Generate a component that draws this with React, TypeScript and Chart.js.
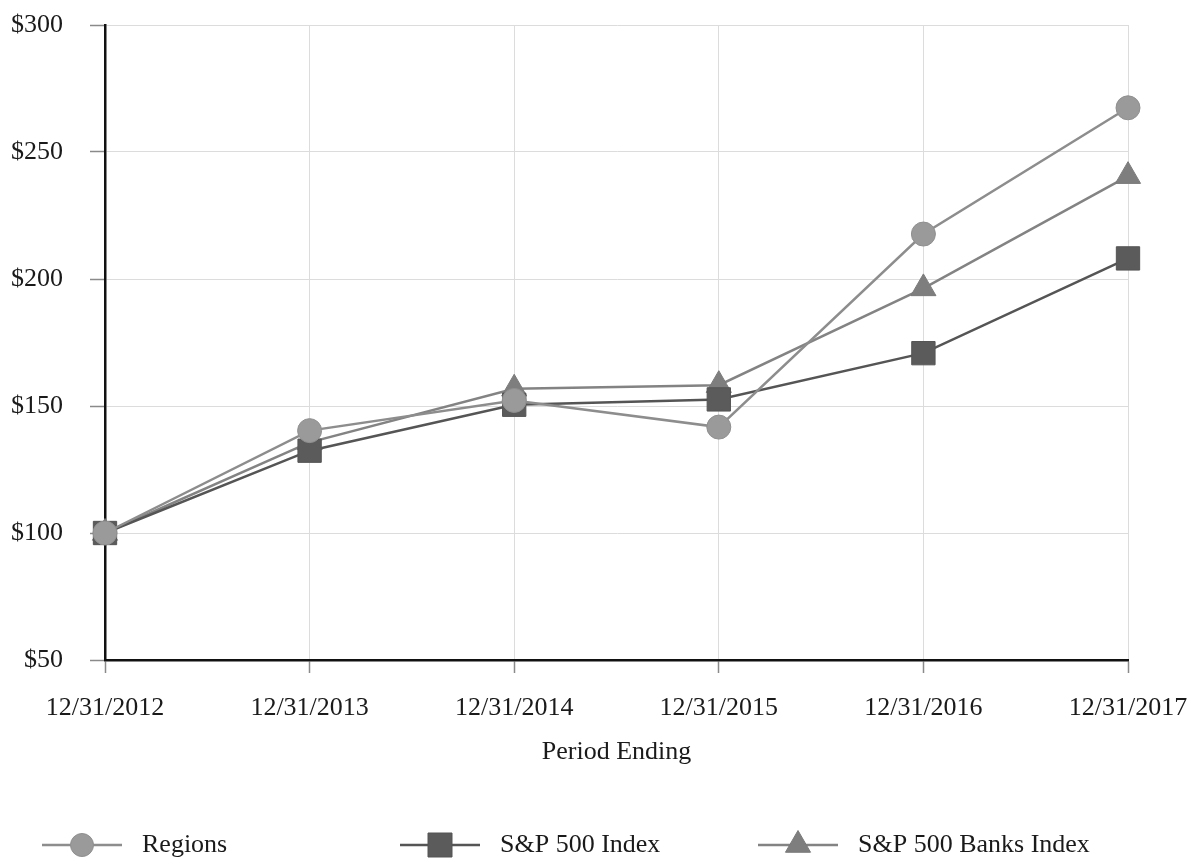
import { useEffect, useRef } from 'react';
import { Chart, registerables } from 'chart.js';

Chart.register(...registerables);

const categories = ['12/31/2012', '12/31/2013', '12/31/2014', '12/31/2015', '12/31/2016', '12/31/2017'];
const regionsValues = [100, 140.3, 152.2, 141.7, 217.7, 267.4];
const sp500Values = [100, 132.4, 150.5, 152.6, 170.8, 208.1];
const spBanksValues = [100, 135.7, 156.8, 158.2, 196.3, 240.5];
const seriesNames = ['Regions', 'S&P 500 Index', 'S&P 500 Banks Index'];
const yMin = 50;
const yMax = 300;
const yStep = 50;
const xTitle = 'Period Ending';

const FONT = '"Liberation Serif", "Times New Roman", serif';
const TEXT = '#1a1a1a';

const legendPlugin = {
  id: 'lineMarkerLegend',
  afterDraw(chart: any) {
    const ctx = chart.ctx as CanvasRenderingContext2D;
    const y = chart.height - 16;
    const starts = [42, 400, 758];
    chart.data.datasets.forEach((ds: any, i: number) => {
      const x0 = starts[i];
      ctx.save();
      ctx.strokeStyle = ds.borderColor;
      ctx.lineWidth = ds.borderWidth;
      ctx.beginPath();
      ctx.moveTo(x0, y);
      ctx.lineTo(x0 + 80, y);
      ctx.stroke();
      const cx = x0 + 40;
      ctx.fillStyle = ds.pointBackgroundColor;
      ctx.strokeStyle = ds.pointBorderColor;
      ctx.lineWidth = 1;
      ctx.beginPath();
      if (ds.pointStyle === 'circle') {
        ctx.arc(cx, y, 11.5, 0, Math.PI * 2);
      } else if (ds.pointStyle === 'rect') {
        ctx.rect(cx - 12, y - 12, 24, 24);
      } else {
        const r = 14.5;
        ctx.moveTo(cx, y - r);
        ctx.lineTo(cx + r * Math.sin(Math.PI / 3), y + r / 2);
        ctx.lineTo(cx - r * Math.sin(Math.PI / 3), y + r / 2);
        ctx.closePath();
      }
      ctx.fill();
      ctx.stroke();
      ctx.fillStyle = TEXT;
      ctx.font = `26px ${FONT}`;
      ctx.textBaseline = 'middle';
      ctx.textAlign = 'left';
      ctx.fillText(ds.label, x0 + 100, y);
      ctx.restore();
    });
  },
};

export default function App() {
  const ref = useRef<HTMLCanvasElement | null>(null);

  useEffect(() => {
    if (!ref.current) return;
    const chart = new Chart(ref.current, {
      type: 'line',
      data: {
        labels: categories,
        datasets: [
          {
            label: seriesNames[0],
            data: regionsValues,
            borderColor: '#8d8d8d',
            borderWidth: 2.5,
            pointStyle: 'circle',
            pointRadius: 12,
            pointHoverRadius: 12,
            pointBackgroundColor: '#9a9a9a',
            pointBorderColor: '#8f8f8f',
            pointBorderWidth: 1,
            tension: 0,
            order: 1,
          },
          {
            label: seriesNames[1],
            data: sp500Values,
            borderColor: '#555555',
            borderWidth: 2.5,
            pointStyle: 'rect',
            pointRadius: 16.5,
            pointHoverRadius: 16.5,
            pointBackgroundColor: '#5b5b5b',
            pointBorderColor: '#555555',
            pointBorderWidth: 1,
            tension: 0,
            order: 2,
          },
          {
            label: seriesNames[2],
            data: spBanksValues,
            borderColor: '#838383',
            borderWidth: 2.5,
            pointStyle: 'triangle',
            pointRadius: 14.5,
            pointHoverRadius: 14.5,
            pointBackgroundColor: '#7e7e7e',
            pointBorderColor: '#7a7a7a',
            pointBorderWidth: 1,
            tension: 0,
            order: 3,
          },
        ],
      },
      options: {
        responsive: false,
        animation: false,
        events: [],
        layout: { padding: { left: 11, right: 63, top: 25, bottom: 93 } },
        plugins: {
          legend: { display: false },
          tooltip: { enabled: false },
          title: { display: false },
        },
        scales: {
          x: {
            type: 'category',
            offset: false,
            afterFit: (scale: any) => {
              scale.height = 108;
              scale.paddingLeft = 0;
              scale.paddingRight = 0;
            },
            grid: { color: '#dcdcdc', lineWidth: 1, tickLength: 13, tickColor: '#8a8a8a', tickWidth: 1.5 },
            border: { color: '#111111', width: 2.5 },
            ticks: {
              color: TEXT,
              font: { family: FONT, size: 26 },
              padding: 20,
              maxRotation: 0,
              autoSkip: false,
            },
            title: {
              display: true,
              text: xTitle,
              color: TEXT,
              font: { family: FONT, size: 26 },
              padding: { top: 0, bottom: 0 },
            },
          },
          y: {
            min: yMin,
            max: yMax,
            afterFit: (scale: any) => {
              scale.width = 94;
              scale.paddingTop = 0;
              scale.paddingBottom = 0;
            },
            grid: { color: '#dcdcdc', lineWidth: 1, tickLength: 15, tickColor: '#8a8a8a', tickWidth: 1.5 },
            border: { color: '#111111', width: 2.5 },
            ticks: {
              stepSize: yStep,
              color: TEXT,
              font: { family: FONT, size: 26 },
              padding: 27,
              callback: (v: any) => '$' + v,
            },
          },
        },
      },
      plugins: [legendPlugin],
    });
    return () => chart.destroy();
  }, []);

  return (
    <div style={{ position: 'absolute', left: 0, top: 0, width: 1191, height: 861, background: '#fff' }}>
      <canvas ref={ref} width={1191} height={861} style={{ width: 1191, height: 861 }} />
    </div>
  );
}
